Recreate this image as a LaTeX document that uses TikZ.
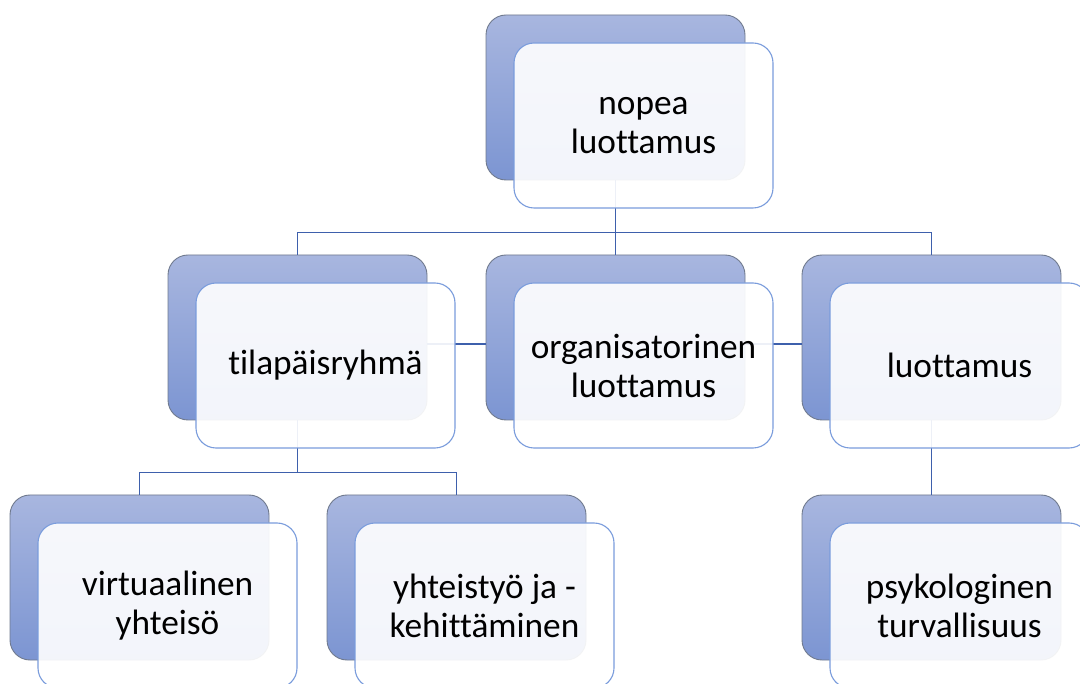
\documentclass[tikz,border=0pt]{standalone}
\usepackage{fontspec}
\setmainfont{Carlito}[Ligatures={NoCommon}]
\definecolor{bktop}{RGB}{168,182,223}
\definecolor{bkbot}{RGB}{124,149,210}
\definecolor{bkline}{RGB}{112,122,142}
\definecolor{frline}{RGB}{122,156,220}
\definecolor{conn}{RGB}{62,96,172}
\tikzset{
  backbox/.style={draw=bkline, line width=0.9pt, top color=bktop, bottom color=bkbot,
    rounded corners=20pt, minimum width=259pt, minimum height=165pt, inner sep=0pt},
  frontbox/.style={draw=frline, line width=1.1pt, fill=white, fill opacity=0.91, text opacity=1,
    rounded corners=20pt, minimum width=259pt, minimum height=165pt, inner sep=0pt,
    align=center, font=\fontsize{35.3}{39}\selectfont, text=black},
  connline/.style={draw=conn, line width=1.4pt}
}
\begin{document}
\begin{tikzpicture}[x=1pt,y=-1pt]
\useasboundingbox (0,0) rectangle (1080,684);
\clip (0,0) rectangle (1080,684);
\fill[white] (0,0) rectangle (1080,684);
% back boxes
\node[backbox] (b0) at (615.5,97.5) {};
\node[backbox] (b1) at (297.5,337.5) {};
\node[backbox] (b2) at (615.5,337.5) {};
\node[backbox] (b3) at (931.5,337.5) {};
\node[backbox] (b4) at (139.5,577.5) {};
\node[backbox] (b5) at (456.5,577.5) {};
\node[backbox] (b6) at (931.5,577.5) {};
% connectors
\draw[connline] (b0.south) -- ++(0,52) -| (b1.north);
\draw[connline] (b0.south) -- ++(0,52) -| (b3.north);
\draw[connline] (b0.south) -- (b2.north);
\draw[connline] ([yshift=-6.5pt]b1.east) -- ([yshift=-6.5pt]b2.west);
\draw[connline] ([yshift=-6.5pt]b2.east) -- ([yshift=-6.5pt]b3.west);
\draw[connline] (b1.south) -- ++(0,52) -| (b4.north);
\draw[connline] (b1.south) -- ++(0,52) -| (b5.north);
\draw[connline] (b3.south) -- (b6.north);
% front boxes
\node[frontbox] (f0) at (643.5,125.5) {nopea\\luottamus};
\node[frontbox] (f1) at (325.5,365.5) {tilapäisryhmä};
\node[frontbox] (f2) at (643.5,365.5) {organisatorinen\\luottamus};
\node[frontbox] (f3) at (959.5,365.5) {luottamus};
\node[frontbox] (f4) at (167.5,605.5) {virtuaalinen\\yhteisö};
\node[frontbox] (f5) at (484.5,605.5) {yhteistyö ja -\\kehittäminen};
\node[frontbox] (f6) at (959.5,605.5) {psykologinen\\turvallisuus};
\end{tikzpicture}
\end{document}
